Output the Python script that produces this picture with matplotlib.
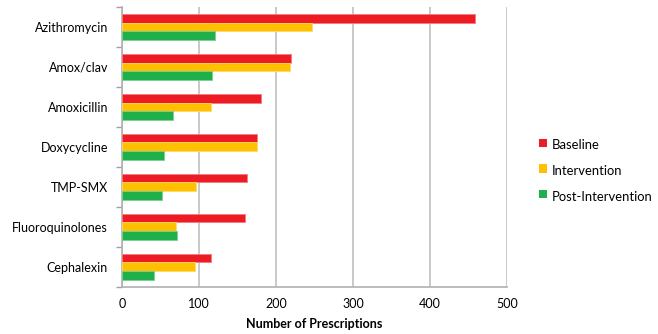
import matplotlib.pyplot as plt
import numpy as np

plt.rcParams['font.family'] = ['Lato', 'DejaVu Sans']

drugs = ['Azithromycin', 'Amox/clav', 'Amoxicillin', 'Doxycycline',
         'TMP-SMX', 'Fluoroquinolones', 'Cephalexin']
baseline = [458, 220, 180, 176, 163, 160, 116]
intervention = [247, 218, 115, 175, 96, 70, 95]
post_intervention = [121, 117, 66, 55, 52, 72, 41]
series_names = ['Baseline', 'Intervention', 'Post-Intervention']
colors = ['#ED1C24', '#FFC000', '#1FAF4B']
edges = ['#F47A7E', '#FFD866', '#7ACF93']

fig = plt.figure(figsize=(6.58, 3.34), dpi=100)
ax = fig.add_axes([0.1854, 0.1416, 0.585, 0.8374])

y = np.arange(len(drugs))
h = 0.22
data = [baseline, intervention, post_intervention]
for i, vals in enumerate(data):
    ax.barh(y + (i - 1) * h, vals, height=h, color=colors[i],
            edgecolor=edges[i], linewidth=0.6, label=series_names[i], zorder=3)

ax.set_xlim(0, 500)
ax.set_ylim(len(drugs) - 0.5, -0.5)
ax.set_xticks(np.arange(0, 501, 100))
ax.set_yticks(y)
ax.set_yticklabels(drugs, fontsize=9)
ax.set_yticks(np.arange(-0.5, len(drugs), 1), minor=True)
ax.tick_params(axis='y', which='major', length=0, pad=10)
ax.tick_params(axis='y', which='minor', length=4, color='#A0A0A0', width=1)
ax.tick_params(axis='x', length=0, labelsize=9, pad=8)
ax.grid(axis='x', color='#C0C0C0', linewidth=1.2, zorder=0)
for s in ['top', 'right']:
    ax.spines[s].set_visible(False)
for s in ['left', 'bottom']:
    ax.spines[s].set_color('#B0B0B0')
    ax.spines[s].set_linewidth(1.2)
ax.set_xlabel('Number of Prescriptions', fontsize=9, fontweight='bold', labelpad=6)

fig.legend(loc='center left', bbox_to_anchor=(0.819, 0.488), frameon=False,
           fontsize=9.4, handlelength=0.6, handleheight=0.5,
           handletextpad=0.4, labelspacing=1.05, borderpad=0, borderaxespad=0)
for patch in fig.legends[0].get_patches():
    patch.set_height(6)
    patch.set_y(patch.get_y() + 1)
    patch.set_linewidth(0)

fig.savefig('out.png', dpi=100)
